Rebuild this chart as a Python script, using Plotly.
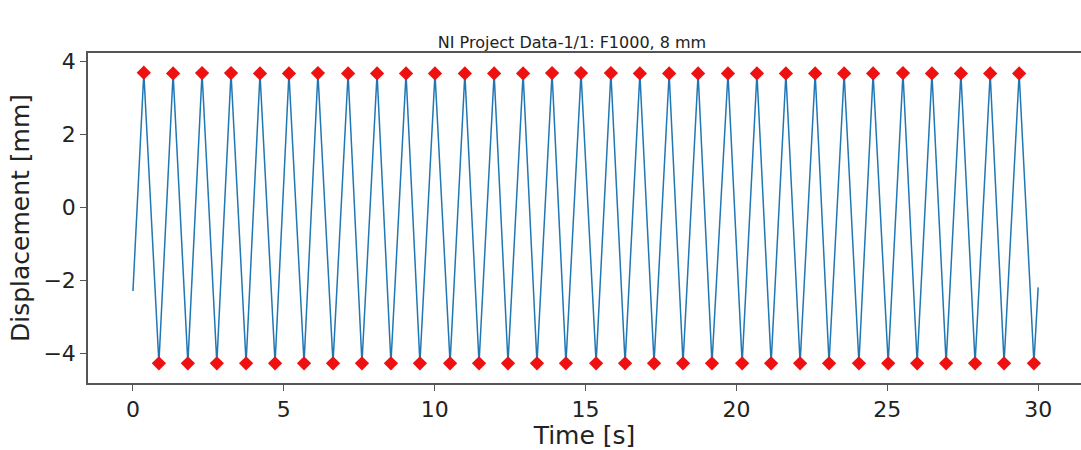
import plotly.graph_objects as go

# Detected peaks (time [s], displacement [mm])
peak_t = [0.36, 1.33, 2.29, 3.25, 4.21, 5.17, 6.13, 7.13, 8.09, 9.05, 10.01,
          11.00, 11.97, 12.93, 13.89, 14.85, 15.84, 16.80, 17.77, 18.73, 19.72,
          20.68, 21.64, 22.61, 23.57, 24.53, 25.52, 26.48, 27.44, 28.41, 29.37]
peak_y = [3.68, 3.66, 3.67, 3.67, 3.66, 3.66, 3.67, 3.66, 3.66, 3.66, 3.66,
          3.66, 3.66, 3.66, 3.67, 3.67, 3.67, 3.66, 3.66, 3.66, 3.66,
          3.66, 3.66, 3.66, 3.66, 3.66, 3.67, 3.66, 3.66, 3.66, 3.66]
# Detected troughs
trough_t = [0.86, 1.82, 2.78, 3.75, 4.71, 5.67, 6.63, 7.59, 8.55, 9.51, 10.51,
            11.47, 12.43, 13.39, 14.35, 15.35, 16.31, 17.27, 18.23, 19.19, 20.19,
            21.15, 22.11, 23.07, 24.06, 25.03, 25.99, 26.95, 27.91, 28.87, 29.86]
trough_y = [-4.28, -4.28, -4.28, -4.28, -4.28, -4.28, -4.28, -4.28, -4.28, -4.28, -4.28,
            -4.28, -4.28, -4.28, -4.28, -4.28, -4.28, -4.28, -4.28, -4.28, -4.28,
            -4.28, -4.28, -4.28, -4.28, -4.28, -4.28, -4.28, -4.28, -4.28, -4.28]
# Signal end points
start_t, start_y = 0.0, -2.3
end_t, end_y = 30.0, -2.2

x_ticks = [0, 5, 10, 15, 20, 25, 30]
y_ticks = [-4, -2, 0, 2, 4]
y_tick_labels = ["\u22124", "\u22122", "0", "2", "4"]

# Build signal trace from the data points
sig_t = [start_t]
sig_y = [start_y]
for pt, py, tt, ty in zip(peak_t, peak_y, trough_t, trough_y):
    sig_t += [pt, tt]
    sig_y += [py, ty]
sig_t.append(end_t)
sig_y.append(end_y)

fig = go.Figure()
fig.add_trace(go.Scatter(x=sig_t, y=sig_y, mode="lines",
                         line=dict(color="#1f77b4", width=1.5), showlegend=False))
fig.add_trace(go.Scatter(x=peak_t + trough_t, y=peak_y + trough_y, mode="markers",
                         marker=dict(symbol="diamond", color="#ee1111", size=11,
                                     line=dict(width=0)),
                         showlegend=False))

axis_common = dict(showgrid=False, zeroline=False, showline=True, mirror=True,
                   automargin=False,
                   linecolor="#555555", linewidth=1.5, ticks="outside", ticklen=6,
                   tickcolor="#555555", tickwidth=1.2,
                   tickfont=dict(family="DejaVu Sans", size=22, color="#222222"))

fig.update_layout(
    width=1081, height=450,
    margin=dict(l=88, r=0, t=53, b=67, autoexpand=False),
    paper_bgcolor="white", plot_bgcolor="white",
    title=dict(text="NI Project Data-1/1: F1000, 8 mm", x=572 / 1081, xanchor="center",
               xref="container", yref="container", automargin=False,
               y=1 - 42 / 450, yanchor="middle",
               font=dict(family="DejaVu Sans", size=16, color="#222222")),
    xaxis=dict(range=[-1.49, 31.42], tickvals=x_ticks, tickmode="array",
               title=dict(text="Time [s]", standoff=3,
                          font=dict(family="DejaVu Sans", size=25, color="#222222")),
               **axis_common),
    yaxis=dict(range=[-4.82, 4.22], tickvals=y_ticks, ticktext=y_tick_labels,
               tickmode="array",
               title=dict(text="Displacement [mm]", standoff=7,
                          font=dict(family="DejaVu Sans", size=25, color="#222222")),
               **axis_common),
)

fig.write_html("out.html", config={"displayModeBar": False},
               post_script="document.body.style.margin='0';"
                           "document.body.style.overflow='hidden';")
